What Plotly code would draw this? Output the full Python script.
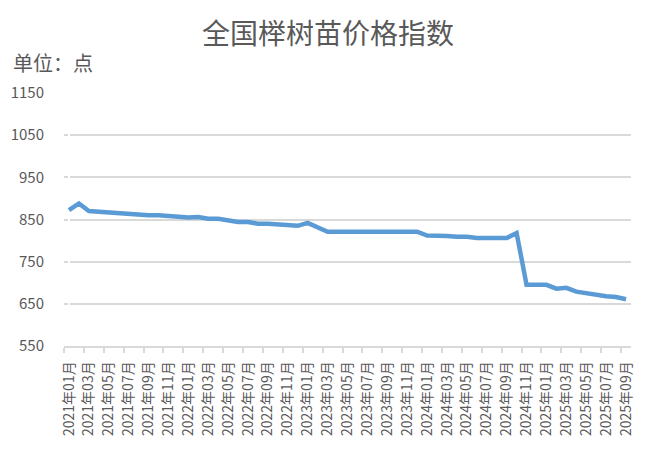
import plotly.graph_objects as go

# 月份 2021-01 ~ 2025-09
months = [f"{y}年{m:02d}月" for y in range(2021, 2026) for m in range(1, 13)][:57]

index_values = [
    872, 888, 870, 868, 866, 864, 862, 862, 860, 860, 858, 858,
    855, 856, 852, 852, 847, 844, 844, 840, 840, 838, 835, 835,
    842, 832, 821, 821, 821, 821, 821, 821, 821, 821, 821, 821,
    812, 812, 811, 809, 809, 806, 806, 806, 806, 818, 695, 695,
    695, 686, 688, 679, 675, 673, 668, 666, 661,
]

y_ticks = [550, 650, 750, 850, 950, 1050, 1150]

font = "Noto Sans CJK SC"
grey = "#595959"

x = list(range(len(months)))

fig = go.Figure()
fig.add_trace(go.Scatter(
    x=x, y=index_values, mode="lines",
    line=dict(color="#5B9BD5", width=4.5),
    showlegend=False,
))

# page body has an 8px margin, margins below are shifted for it
fig.update_layout(
    width=655, height=469,
    margin=dict(l=56, r=32, t=85, b=131, autoexpand=False),
    paper_bgcolor="white", plot_bgcolor="white",
    font=dict(family=font, color=grey),
    title=dict(text="全国榉树苗价格指数", x=0.4885, xref="container", y=0.945,
               yref="container", yanchor="middle", xanchor="center",
               font=dict(size=28, color=grey, family=font)),
)

fig.add_annotation(text="单位：点", xref="paper", yref="paper",
                   x=-0.093, y=1.12, xanchor="left", yanchor="middle",
                   showarrow=False, font=dict(size=20, color=grey, family=font))

fig.update_xaxes(
    range=[-0.5, len(months) - 0.5], automargin=False,
    tickmode="array", tickvals=x[::2], ticktext=months[::2],
    tickangle=-90, tickfont=dict(size=14, color=grey), ticklabelstandoff=8,
    ticks="", showgrid=False,
    showline=True, linecolor="#d9d9d9", linewidth=1.5,
    minor=dict(tickmode="array", tickvals=[i - 0.5 for i in range(0, len(months) + 1, 2)],
               ticks="outside", ticklen=5, tickcolor="#d9d9d9", tickwidth=1.5),
)

fig.update_yaxes(
    range=[550, 1150], tickvals=y_ticks, automargin=False,
    tickfont=dict(size=15, color=grey), ticklabelstandoff=19,
    showgrid=True, gridcolor="#d9d9d9", gridwidth=1.5,
    zeroline=False, showline=False, ticks="",
)

fig.write_html("out.html")
